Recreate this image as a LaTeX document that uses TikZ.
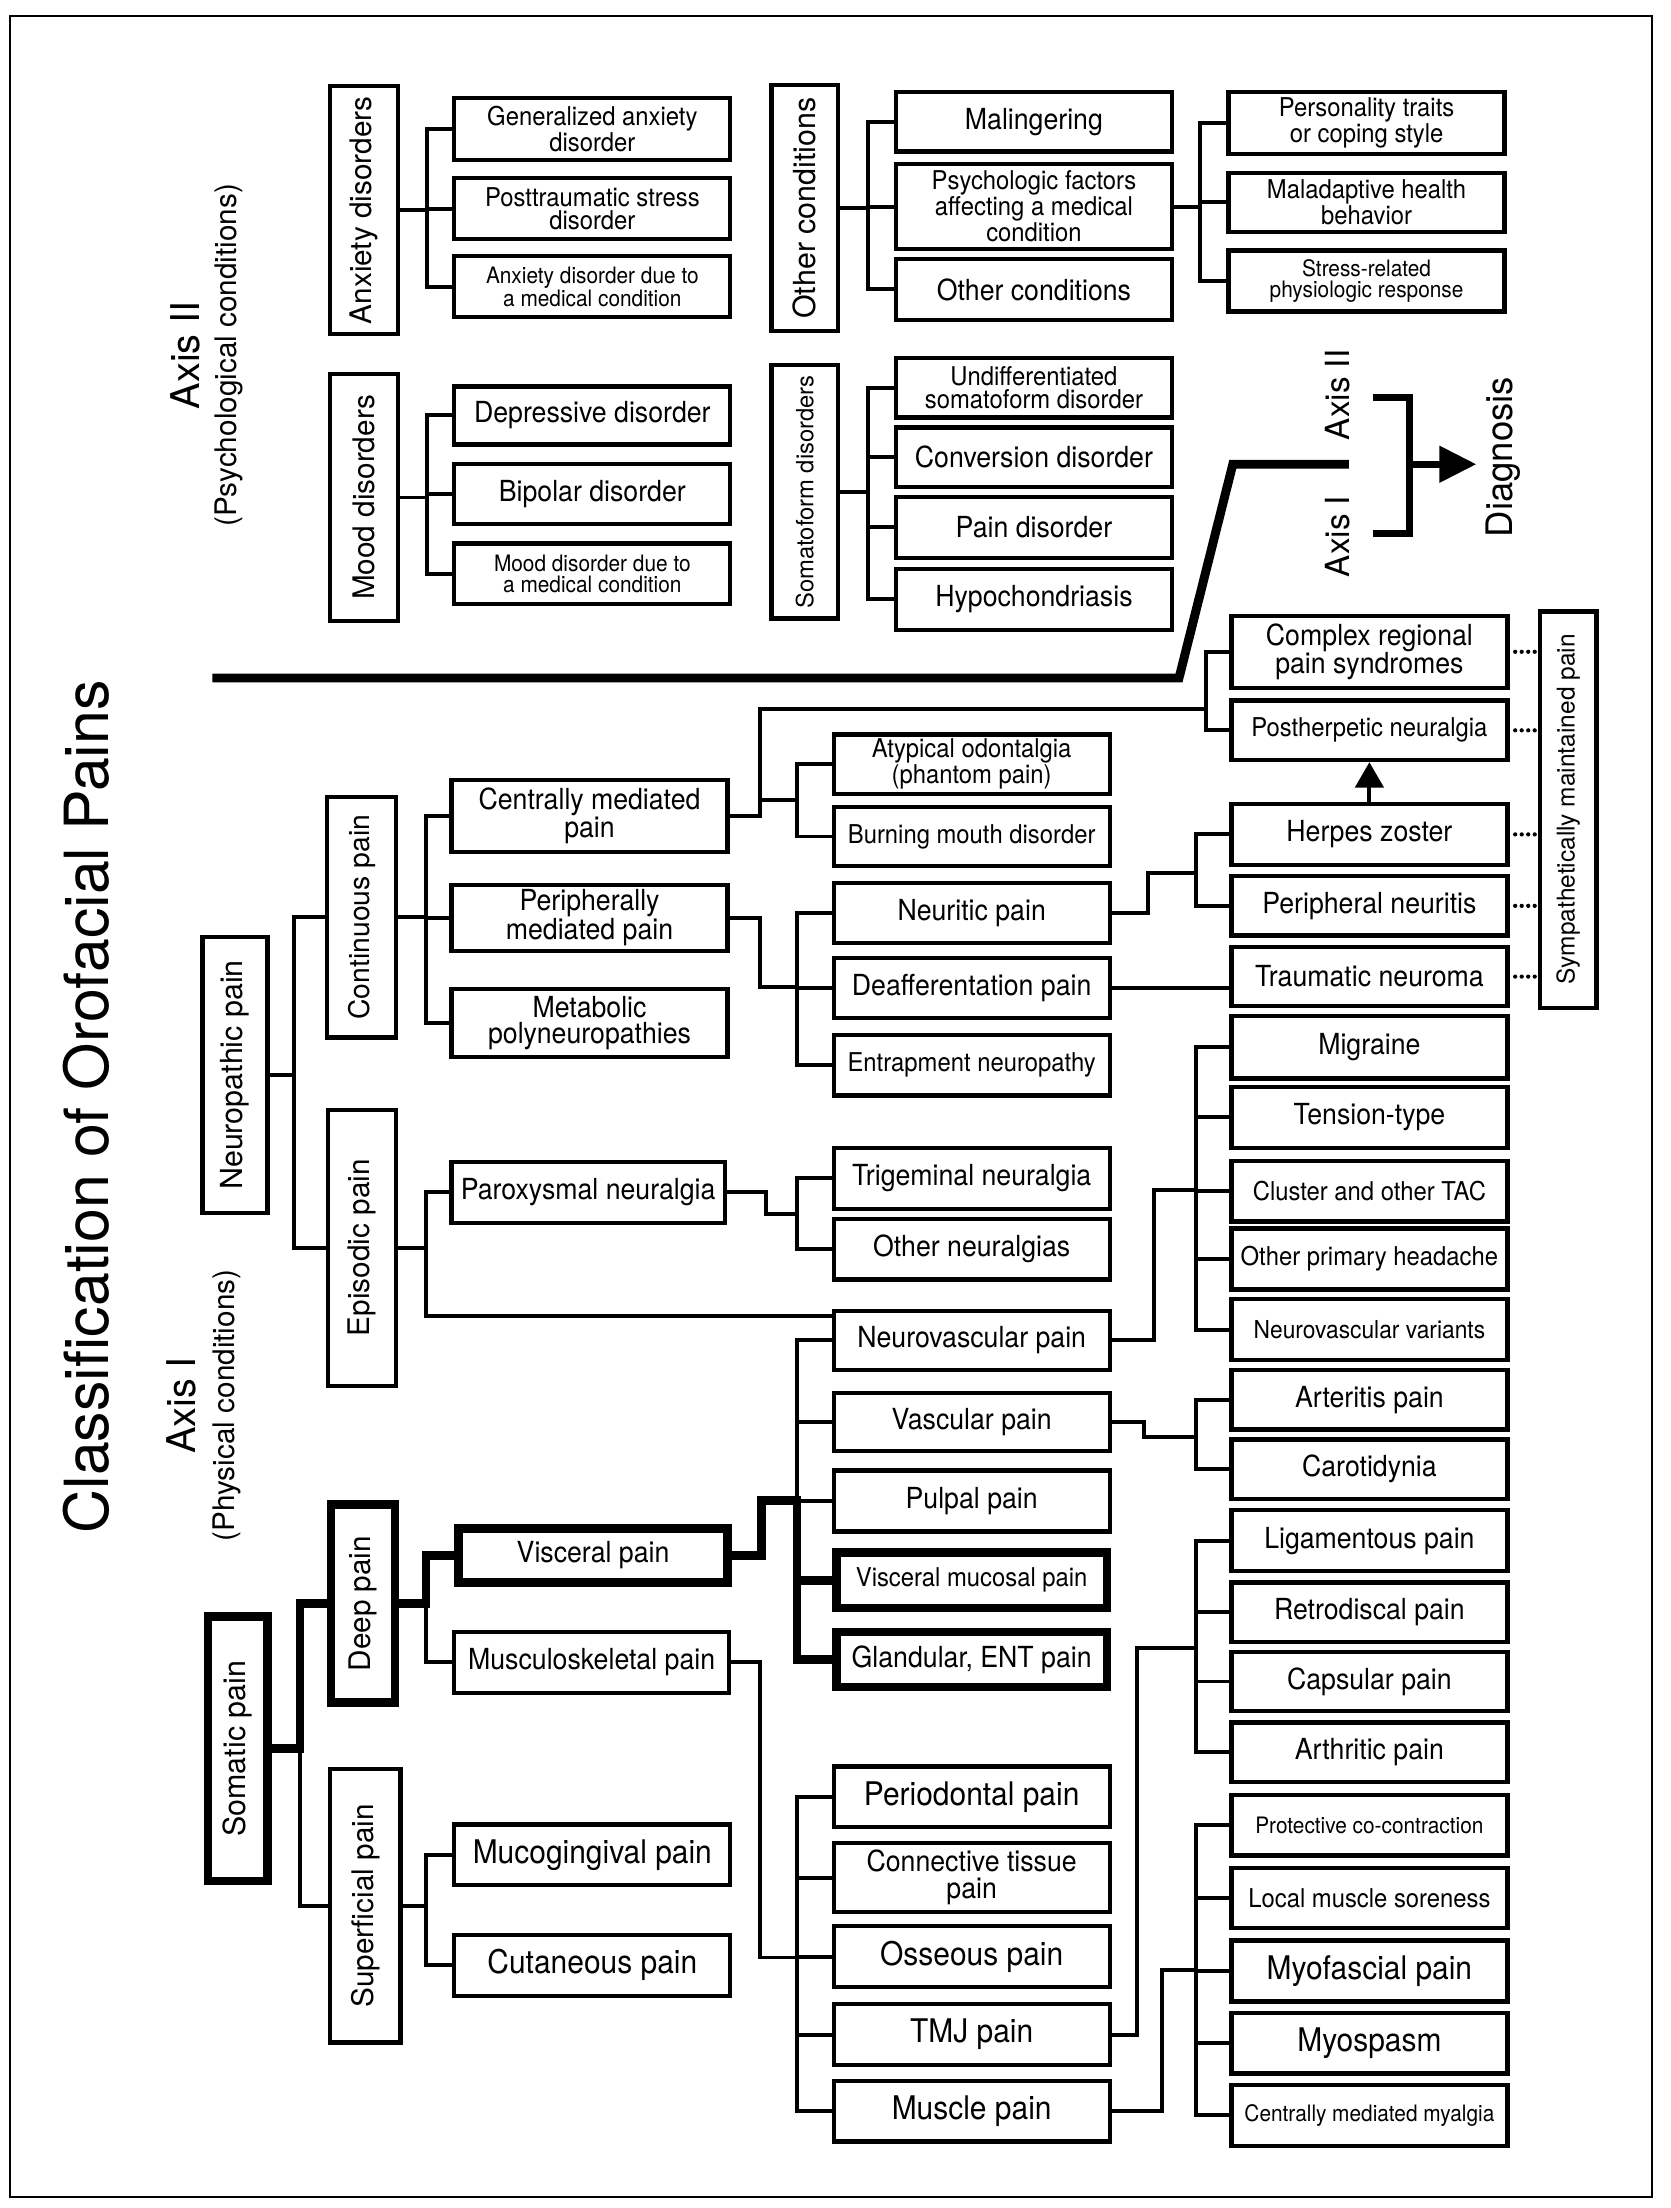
\documentclass[tikz,border=0pt]{standalone}
\usepackage{fontspec}
\setmainfont{TeX Gyre Heros}
\newfontfamily\nf[FakeStretch=0.92]{TeX Gyre Heros}
\usetikzlibrary{arrows.meta}
\newcommand\fX{\nf\fontsize{23}{20}\selectfont}
\newcommand\fL{\nf\fontsize{20.5}{18.5}\selectfont}
\newcommand\fM{\nf\fontsize{18.3}{16}\selectfont}
\newcommand\fS{\nf\fontsize{16}{14.5}\selectfont}
\newcommand\fV[1]{\fontsize{#1}{#1}\selectfont}
\newcommand\BX[7][]{%
  \pgfmathsetmacro\bxX{(#3+#5)/2}%
  \pgfmathsetmacro\bxY{(#4+#6)/2}%
  \pgfmathsetmacro\bxW{#5-#3}%
  \pgfmathsetmacro\bxH{#6-#4}%
  \node[bx,minimum width=\bxW pt,minimum height=\bxH pt,#1] (#2) at (\bxX,\bxY) {#7};}
\newcommand\VB[8][]{\BX[font=\fV{#7},#1]{#2}{#3}{#4}{#5}{#6}{\rotatebox{90}{#8}}}
\begin{document}
\begin{tikzpicture}[x=1pt,y=-1pt,
  bx/.style={draw,line width=3pt,inner sep=0pt,align=center,rectangle},
  boldb/.style={line width=6pt},
  cn/.style={line width=2.8pt,line cap=rect},
  cnb/.style={line width=6pt,line cap=rect},
  dots/.style={line width=3pt,dash pattern=on 0pt off 4.6pt,line cap=round},
  lbl/.style={inner sep=0pt}]
\useasboundingbox (0,0) rectangle (1180,1560);
\draw[line width=1.4pt] (7,11) rectangle (1167,1552);

% ---------- titles ----------
\node[lbl,rotate=90,font=\fV{43}] (title) at (61,782) {Classification of Orofacial Pains};
\node[lbl,rotate=90,font=\fV{28}] (ax2) at (131,251) {Axis II};
\node[lbl,rotate=90,font=\fV{21}] (ax2s) at (162,251) {(Psychological conditions)};
\node[lbl,rotate=90,font=\fV{28}] (ax1) at (128,993) {Axis I};
\node[lbl,rotate=90,font=\fV{21}] (ax1s) at (160,993) {(Physical conditions)};

% ---------- Axis II ----------
\VB{anx}{233}{61}{281}{236}{21}{Anxiety disorders}
\BX[font=\fM]{gad}{321}{69}{516}{113}{Generalized anxiety\\disorder}
\BX[font=\fM]{ptsd}{321}{126}{516}{169}{Posttraumatic stress\\disorder}
\BX[font=\fS]{adm}{321}{181}{516}{224}{Anxiety disorder due to\\a medical condition}
\VB{mood}{233}{264}{281}{439}{21}{Mood disorders}
\BX[font=\fL]{dep}{321}{273}{516}{314}{Depressive disorder}
\BX[font=\fL]{bip}{321}{328}{516}{370}{Bipolar disorder}
\BX[font=\fS]{mdm}{321}{384}{516}{427}{Mood disorder due to\\a medical condition}
\VB{oth}{545}{60}{592}{234}{21.5}{Other conditions}
\BX[font=\fL]{mal}{633}{65}{828}{107}{Malingering}
\BX[font=\fM]{psy}{633}{116}{828}{176}{Psychologic factors\\affecting a medical\\condition}
\BX[font=\fL]{othc}{633}{183}{828}{226}{Other conditions}
\BX[font=\fM]{pers}{868}{65}{1063}{109}{Personality traits\\or coping style}
\BX[font=\fM]{mhb}{868}{122}{1063}{164}{Maladaptive health\\behavior}
\BX[font=\fS]{srp}{868}{177}{1063}{220}{Stress-related\\physiologic response}
\VB{soma2}{545}{258}{592}{437}{16.8}{Somatoform disorders}
\BX[font=\fM]{und}{633}{253}{828}{295}{Undifferentiated\\somatoform disorder}
\BX[font=\fL]{conv}{633}{302}{828}{344}{Conversion disorder}
\BX[font=\fL]{paind}{633}{351}{828}{394}{Pain disorder}
\BX[font=\fL]{hyp}{633}{402}{828}{445}{Hypochondriasis}

\coordinate (b1) at (302,0);
\coordinate (b2) at (613,0);
\coordinate (b3) at (848,0);
\draw[cn] (anx.east) -- (anx.east -| b1);
\draw[cn] (gad.west -| b1) -- (adm.west -| b1);
\foreach \nm in {gad,ptsd,adm} {\draw[cn] (\nm.west -| b1) -- (\nm.west);}
\draw[cn] (mood.east) -- (mood.east -| b1);
\draw[cn] (dep.west -| b1) -- (mdm.west -| b1);
\foreach \nm in {dep,bip,mdm} {\draw[cn] (\nm.west -| b1) -- (\nm.west);}
\draw[cn] (oth.east) -- (oth.east -| b2);
\draw[cn] (mal.west -| b2) -- (othc.west -| b2);
\foreach \nm in {mal,psy,othc} {\draw[cn] (\nm.west -| b2) -- (\nm.west);}
\draw[cn] (psy.east) -- (psy.east -| b3);
\draw[cn] (pers.west -| b3) -- (srp.west -| b3);
\foreach \nm in {pers,mhb,srp} {\draw[cn] (\nm.west -| b3) -- (\nm.west);}
\draw[cn] (soma2.east) -- (soma2.east -| b2);
\draw[cn] (und.west -| b2) -- (hyp.west -| b2);
\foreach \nm in {und,conv,paind,hyp} {\draw[cn] (\nm.west -| b2) -- (\nm.west);}

% ---------- divider and diagnosis ----------
\coordinate (dv1) at (150,479);
\coordinate (dv2) at (833,479);
\coordinate (dv3) at (871,328);
\coordinate (dv4) at (953,328);
\draw[line width=6.3pt] (dv1) -- (dv2) -- (dv3) -- (dv4);
\node[lbl,rotate=90,font=\fV{23.5}] (ax2r) at (945,279) {Axis II};
\node[lbl,rotate=90,font=\fV{23.5}] (ax1r) at (945,379) {Axis I};
\coordinate (bk1) at (970,281);
\coordinate (bk2) at (996,281);
\coordinate (bk3) at (996,377);
\coordinate (bk4) at (970,377);
\coordinate (bkm) at (996,328);
\coordinate (tip) at (1043,328);
\draw[line width=4.6pt] (bk1) -- (bk2) -- (bk3) -- (bk4);
\draw[line width=4.6pt,-{Triangle[length=26pt,width=25pt]}] (bkm) -- (tip);
\node[lbl,rotate=90,font=\fV{25.8}] (diag) at (1062,323) {Diagnosis};

% ---------- Axis I boxes ----------
\VB{neur}{143}{662}{189}{857}{21.5}{Neuropathic pain}
\VB{cont}{231}{563}{280}{733}{20}{Continuous pain}
\VB{epis}{232}{784}{280}{979}{21}{Episodic pain}
\BX[font=\fL]{cmp}{319}{551}{514}{602}{Centrally mediated\\pain}
\BX[font=\fL]{pmp}{319}{625}{514}{672}{Peripherally\\mediated pain}
\BX[font=\fL]{met}{319}{699}{514}{747}{Metabolic\\polyneuropathies}
\BX[font=\fM]{atyp}{589}{519}{784}{561}{Atypical odontalgia\\(phantom pain)}
\BX[font=\fM]{burn}{589}{570}{784}{612}{Burning mouth disorder}
\BX[font=\fL]{neurit}{589}{624}{784}{666}{Neuritic pain}
\BX[font=\fL]{deaff}{589}{677}{784}{719}{Deafferentation pain}
\BX[font=\fM]{entr}{589}{731}{784}{774}{Entrapment neuropathy}
\BX[font=\fL]{crps}{870}{435}{1065}{486}{Complex regional\\pain syndromes}
\BX[font=\fM]{phn}{870}{495}{1065}{537}{Postherpetic neuralgia}
\BX[font=\fL]{hz}{870}{568}{1065}{611}{Herpes zoster}
\BX[font=\fL]{pn}{870}{619}{1065}{661}{Peripheral neuritis}
\BX[font=\fL]{tn}{870}{669}{1065}{711}{Traumatic neuroma}
\VB{smp}{1088}{432}{1128}{712}{17.3}{Sympathetically maintained pain}
\BX[font=\fL]{parox}{319}{821}{512}{864}{Paroxysmal neuralgia}
\BX[font=\fL]{trig}{589}{811}{784}{854}{Trigeminal neuralgia}
\BX[font=\fL]{othn}{589}{861}{784}{904}{Other neuralgias}
\BX[font=\fL]{nvp}{589}{926}{784}{968}{Neurovascular pain}
\BX[font=\fL]{mig}{870}{718}{1065}{762}{Migraine}
\BX[font=\fL]{tens}{870}{768}{1065}{811}{Tension-type}
\BX[font=\fM]{clus}{870}{820}{1065}{863}{Cluster and other TAC}
\BX[font=\fM]{oph}{870}{868}{1065}{911}{Other primary headache}
\BX[font=\nf\fontsize{17.5}{15}\selectfont]{nvv}{870}{918}{1065}{961}{Neurovascular variants}
\BX[font=\fL]{vasc}{589}{984}{784}{1025}{Vascular pain}
\BX[font=\fL]{pulp}{589}{1039}{784}{1082}{Pulpal pain}
\BX[font=\fM,boldb]{vm}{591}{1097}{782}{1136}{Visceral mucosal pain}
\BX[font=\fL,boldb]{glan}{591}{1153}{782}{1192}{Glandular, ENT pain}
\BX[font=\fL]{art}{870}{968}{1065}{1010}{Arteritis pain}
\BX[font=\fL]{car}{870}{1017}{1065}{1059}{Carotidynia}
\VB[boldb]{deep}{234}{1063}{279}{1203}{21}{Deep pain}
\VB[boldb]{soma}{147}{1142}{189}{1329}{21.5}{Somatic pain}
\BX[font=\fL,boldb]{visc}{324}{1080}{514}{1118}{Visceral pain}
\BX[font=\fL]{musk}{321}{1153}{515}{1196}{Musculoskeletal pain}
\VB{sup}{233}{1250}{283}{1443}{21}{Superficial pain}
\BX[font=\fX]{muco}{321}{1289}{516}{1332}{Mucogingival pain}
\BX[font=\fX]{cut}{321}{1367}{516}{1410}{Cutaneous pain}
\BX[font=\fL]{lig}{870}{1067}{1065}{1110}{Ligamentous pain}
\BX[font=\fL]{retro}{870}{1118}{1065}{1160}{Retrodiscal pain}
\BX[font=\fL]{caps}{870}{1167}{1065}{1209}{Capsular pain}
\BX[font=\fL]{arth}{870}{1217}{1065}{1259}{Arthritic pain}
\BX[font=\fX]{perio}{589}{1248}{784}{1291}{Periodontal pain}
\BX[font=\nf\fontsize{20.5}{19}\selectfont]{conn}{589}{1302}{784}{1351}{Connective tissue\\pain}
\BX[font=\fX]{oss}{589}{1361}{784}{1404}{Osseous pain}
\BX[font=\fX]{tmj}{589}{1416}{784}{1459}{TMJ pain}
\BX[font=\fX]{musc}{589}{1470}{784}{1513}{Muscle pain}
\BX[font=\fS]{prot}{870}{1268}{1065}{1311}{Protective co-contraction}
\BX[font=\fM]{lms}{870}{1320}{1065}{1362}{Local muscle soreness}
\BX[font=\fX]{myof}{870}{1371}{1065}{1414}{Myofascial pain}
\BX[font=\fX]{myos}{870}{1422}{1065}{1465}{Myospasm}
\BX[font=\fS]{cmm}{870}{1473}{1065}{1516}{Centrally mediated myalgia}

% ---------- Axis I connectors ----------
\coordinate (a1) at (208,0);
\coordinate (a1s) at (212,0);
\coordinate (a2) at (301,0);
\coordinate (a3) at (563,0);
\coordinate (a4) at (845,0);
\coordinate (a4c) at (852,0);
\coordinate (e1) at (537,501);  \coordinate (j1) at (852,501);
\coordinate (e1b) at (537,565); \coordinate (j1b) at (563,565);
\coordinate (e2) at (537,697);  \coordinate (j2) at (563,697);
\coordinate (e3) at (811,617);  \coordinate (j3) at (845,617);
\coordinate (j5) at (301,930);
\coordinate (e4) at (541,858);  \coordinate (j6) at (563,858);
\coordinate (e5) at (815,841);  \coordinate (j7) at (845,841);
\coordinate (e6) at (538,1060); \coordinate (j8) at (563,1060);
\coordinate (e7) at (808,1015); \coordinate (j9) at (845,1015);
\coordinate (e8) at (537,1383); \coordinate (j10) at (563,1383);
\coordinate (e9) at (803,1164); \coordinate (j11) at (845,1164);
\coordinate (e10) at (821,1392); \coordinate (j12) at (845,1392);

% neuropathic
\draw[cn] (neur.east) -- (neur.east -| a1);
\draw[cn] (cont.west -| a1) -- (epis.west -| a1);
\foreach \nm in {cont,epis} {\draw[cn] (\nm.west -| a1) -- (\nm.west);}
% continuous
\draw[cn] (cont.east) -- (cont.east -| a2);
\draw[cn] (cmp.west -| a2) -- (met.west -| a2);
\foreach \nm in {cmp,pmp,met} {\draw[cn] (\nm.west -| a2) -- (\nm.west);}
% centrally mediated
\draw[cn] (cmp.east) -| (e1) -- (j1);
\draw[cn] (crps.west -| a4c) -- (phn.west -| a4c);
\foreach \nm in {crps,phn} {\draw[cn] (\nm.west -| a4c) -- (\nm.west);}
\draw[cn] (e1b) -- (j1b);
\draw[cn] (atyp.west -| a3) -- (burn.west -| a3);
\foreach \nm in {atyp,burn} {\draw[cn] (\nm.west -| a3) -- (\nm.west);}
% peripherally mediated
\draw[cn] (pmp.east) -| (e2) -- (j2);
\draw[cn] (neurit.west -| a3) -- (entr.west -| a3);
\foreach \nm in {neurit,deaff,entr} {\draw[cn] (\nm.west -| a3) -- (\nm.west);}
\draw[cn] (neurit.east) -| (e3) -- (j3);
\draw[cn] (hz.west -| a4) -- (pn.west -| a4);
\foreach \nm in {hz,pn} {\draw[cn] (\nm.west -| a4) -- (\nm.west);}
\draw[cn] (deaff.east) -- (deaff.east -| tn.west);
\draw[line width=2.8pt,-{Triangle[length=18pt,width=20pt]}] (hz.north) -- (phn.south);
\foreach \nm in {crps,phn,hz,pn,tn} {\draw[dots] ([xshift=4pt]\nm.east) -- ([xshift=-2pt]\nm.east -| smp.west);}
% episodic
\draw[cn] (epis.east) -- (epis.east -| a2);
\draw[cn] (parox.west -| a2) -- (j5);
\draw[cn] (parox.west -| a2) -- (parox.west);
\draw[cn] (j5) -- (j5 -| nvp.west);
\draw[cn] (parox.east) -| (e4) -- (j6);
\draw[cn] (trig.west -| a3) -- (othn.west -| a3);
\foreach \nm in {trig,othn} {\draw[cn] (\nm.west -| a3) -- (\nm.west);}
% neurovascular
\draw[cn] (nvp.east) -| (e5) -- (j7);
\draw[cn] (mig.west -| a4) -- (nvv.west -| a4);
\foreach \nm in {mig,tens,clus,oph,nvv} {\draw[cn] (\nm.west -| a4) -- (\nm.west);}
% vascular
\draw[cn] (vasc.east) -| (e7) -- (j9);
\draw[cn] (art.west -| a4) -- (car.west -| a4);
\foreach \nm in {art,car} {\draw[cn] (\nm.west -| a4) -- (\nm.west);}
% visceral group
\draw[cn] (nvp.west -| a3) -- (j8);
\foreach \nm in {nvp,vasc,pulp} {\draw[cn] (\nm.west -| a3) -- (\nm.west);}
\draw[cnb] (visc.east) -| (e6) -- (j8);
\draw[cnb] (j8) -- (glan.west -| a3);
\foreach \nm in {vm,glan} {\draw[cnb] (\nm.west -| a3) -- (\nm.west);}
% somatic
\draw[cnb] (soma.east) -- (soma.east -| a1s) -- (deep.west -| a1s) -- (deep.west);
\draw[cn] (soma.east -| a1s) -- (sup.west -| a1s) -- (sup.west);
% deep
\draw[cnb] (deep.east) -- (deep.east -| a2) -- (visc.west -| a2) -- (visc.west);
\draw[cn] (deep.east -| a2) -- (musk.west -| a2) -- (musk.west);
% superficial
\draw[cn] (sup.east) -- (sup.east -| a2);
\draw[cn] (muco.west -| a2) -- (cut.west -| a2);
\foreach \nm in {muco,cut} {\draw[cn] (\nm.west -| a2) -- (\nm.west);}
% musculoskeletal
\draw[cn] (musk.east) -| (e8) -- (j10);
\draw[cn] (perio.west -| a3) -- (musc.west -| a3);
\foreach \nm in {perio,conn,oss,tmj,musc} {\draw[cn] (\nm.west -| a3) -- (\nm.west);}
\draw[cn] (tmj.east) -| (e9) -- (j11);
\draw[cn] (lig.west -| a4) -- (arth.west -| a4);
\foreach \nm in {lig,retro,caps,arth} {\draw[cn] (\nm.west -| a4) -- (\nm.west);}
\draw[cn] (musc.east) -| (e10) -- (j12);
\draw[cn] (prot.west -| a4) -- (cmm.west -| a4);
\foreach \nm in {prot,lms,myof,myos,cmm} {\draw[cn] (\nm.west -| a4) -- (\nm.west);}
\end{tikzpicture}
\end{document}
